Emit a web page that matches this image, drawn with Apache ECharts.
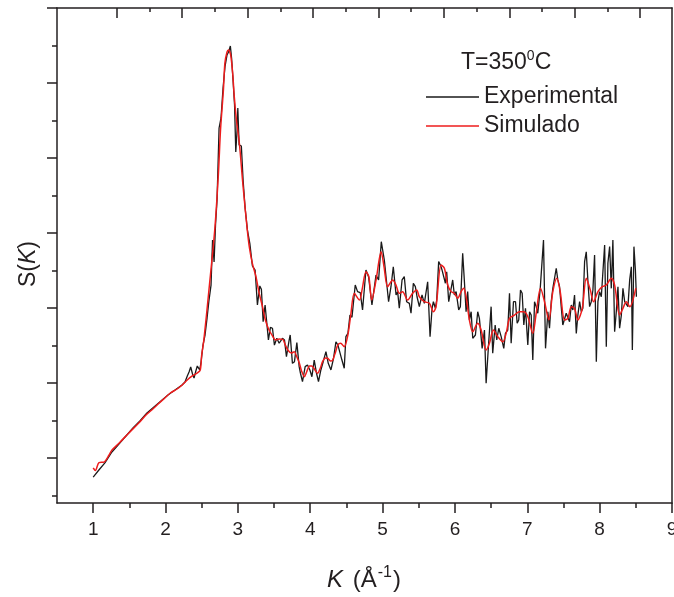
<!DOCTYPE html>
<html>
<head>
<meta charset="utf-8">
<script src="https://cdn.jsdelivr.net/npm/echarts@6/dist/echarts.min.js"></script>
<style>
  html, body { margin: 0; padding: 0; background: #fff; }
  #main { width: 674px; height: 597px; }
</style>
</head>
<body>
<div id="main"></div>
<script>
// experimental S(K)
var kExp = [1.000,1.079,1.162,1.259,1.356,1.453,1.550,1.646,1.743,1.840,1.937,2.034,2.131,2.228,2.269,2.301,2.325,2.348,2.373,2.394,2.415,2.439,2.473,2.491,2.518,2.546,2.574,2.601,2.629,2.650,2.671,2.691,2.712,2.740,2.767,2.795,2.823,2.850,2.871,2.896,2.913,2.933,2.954,2.971,2.989,2.999,3.017,3.048,3.072,3.100,3.132,3.165,3.201,3.238,3.270,3.303,3.325,3.349,3.376,3.422,3.450,3.478,3.505,3.538,3.570,3.616,3.644,3.671,3.709,3.723,3.754,3.782,3.815,3.847,3.865,3.893,3.930,3.962,3.995,4.023,4.055,4.087,4.114,4.147,4.179,4.217,4.249,4.286,4.322,4.355,4.383,4.410,4.438,4.470,4.493,4.521,4.549,4.577,4.622,4.654,4.691,4.723,4.770,4.806,4.853,4.909,4.945,4.982,5.024,5.083,5.116,5.148,5.186,5.208,5.231,5.269,5.300,5.332,5.370,5.393,5.425,5.453,5.476,5.508,5.545,5.577,5.623,5.656,5.684,5.702,5.730,5.748,5.775,5.799,5.822,5.844,5.868,5.886,5.914,5.941,5.969,5.992,6.016,6.052,6.075,6.107,6.131,6.154,6.176,6.200,6.224,6.246,6.283,6.315,6.338,6.376,6.408,6.431,6.467,6.500,6.522,6.556,6.578,6.606,6.639,6.675,6.698,6.730,6.754,6.777,6.809,6.837,6.860,6.882,6.906,6.929,6.952,6.975,7.007,7.031,7.054,7.076,7.100,7.123,7.145,7.179,7.201,7.224,7.252,7.284,7.307,7.331,7.353,7.400,7.422,7.446,7.469,7.491,7.515,7.538,7.561,7.584,7.608,7.630,7.653,7.677,7.699,7.723,7.746,7.768,7.792,7.815,7.837,7.861,7.884,7.907,7.930,7.954,7.976,7.999,8.023,8.045,8.069,8.092,8.114,8.138,8.161,8.183,8.207,8.230,8.253,8.276,8.300,8.322,8.346,8.369,8.391,8.415,8.438,8.452,8.474,8.494,8.508];
var sExp = [-0.127,-0.080,-0.033,0.040,0.093,0.147,0.200,0.247,0.300,0.340,0.380,0.420,0.453,0.487,0.507,0.547,0.573,0.607,0.560,0.533,0.573,0.613,0.587,0.640,0.753,0.820,0.933,1.053,1.153,1.453,1.307,1.553,1.720,2.200,2.267,2.467,2.613,2.687,2.707,2.747,2.667,2.520,2.353,2.040,2.187,2.333,2.087,2.080,1.853,1.667,1.520,1.431,1.280,1.253,1.020,1.147,1.125,0.909,1.020,0.787,0.871,0.865,0.753,0.798,0.765,0.798,0.787,0.675,0.787,0.820,0.631,0.642,0.769,0.609,0.565,0.509,0.609,0.620,0.587,0.542,0.653,0.565,0.509,0.587,0.642,0.709,0.631,0.587,0.665,0.775,0.753,0.742,0.653,0.598,0.809,0.831,0.953,0.938,1.153,1.109,1.102,0.987,1.253,1.209,1.020,1.220,1.187,1.442,1.320,1.042,1.142,1.275,1.087,1.109,0.998,1.187,1.209,1.042,1.031,0.965,1.165,1.142,1.075,1.009,1.087,1.031,1.175,0.809,0.998,1.042,0.998,1.053,1.309,1.287,1.253,1.265,1.165,1.242,1.042,1.042,1.187,1.087,1.109,0.987,1.009,1.365,1.175,0.975,1.109,0.920,0.975,0.798,0.820,0.975,0.931,0.731,0.853,0.498,0.775,1.009,0.698,0.887,0.787,0.865,0.809,0.731,0.831,0.853,1.098,0.765,1.042,1.042,0.898,0.920,1.120,1.098,0.887,0.998,0.753,0.975,0.953,0.653,1.042,1.009,0.965,1.131,1.120,1.453,0.731,0.975,0.865,1.042,1.131,1.265,1.187,1.142,1.009,0.887,0.887,0.965,0.975,0.909,1.020,0.987,1.087,0.831,0.953,1.042,0.975,0.998,1.309,1.375,1.187,1.009,1.042,1.120,1.353,0.642,1.042,1.109,1.075,1.087,1.420,0.742,1.298,1.409,1.131,1.453,0.842,0.975,1.142,0.865,0.953,1.131,1.042,1.053,1.009,1.187,1.275,0.720,1.409,1.253,1.075];

// simulated S(K)
var kSim = [1.00,1.03,1.08,1.15,1.22,1.26,1.36,1.49,1.63,1.73,1.81,1.91,1.99,2.07,2.16,2.23,2.30,2.37,2.44,2.48,2.50,2.53,2.60,2.68,2.73,2.76,2.80,2.82,2.85,2.87,2.90,2.93,2.95,2.98,3.02,3.07,3.13,3.16,3.20,3.25,3.29,3.34,3.38,3.43,3.48,3.52,3.57,3.62,3.65,3.69,3.74,3.78,3.81,3.85,3.88,3.92,3.95,3.99,4.02,4.05,4.10,4.14,4.17,4.21,4.24,4.28,4.31,4.35,4.38,4.42,4.47,4.52,4.56,4.61,4.68,4.72,4.77,4.81,4.85,4.91,4.98,5.02,5.07,5.14,5.185,5.231,5.277,5.346,5.415,5.471,5.508,5.577,5.647,5.702,5.739,5.808,5.854,5.900,5.947,5.992,6.038,6.085,6.121,6.154,6.200,6.246,6.315,6.362,6.431,6.477,6.532,6.592,6.661,6.708,6.754,6.823,6.892,6.952,7.007,7.076,7.123,7.183,7.238,7.298,7.353,7.408,7.455,7.515,7.561,7.608,7.653,7.699,7.760,7.815,7.871,7.916,7.976,8.037,8.092,8.161,8.207,8.276,8.322,8.369,8.415,8.50];
var sSim = [-0.067,-0.083,-0.031,-0.027,0.02,0.053,0.10,0.165,0.233,0.287,0.32,0.365,0.40,0.435,0.46,0.487,0.52,0.547,0.567,0.587,0.687,0.787,1.12,1.52,1.887,2.187,2.453,2.631,2.707,2.72,2.687,2.553,2.409,2.253,2.10,1.82,1.52,1.40,1.298,1.209,1.107,1.009,0.92,0.853,0.813,0.787,0.793,0.791,0.76,0.72,0.70,0.709,0.68,0.631,0.58,0.542,0.573,0.613,0.613,0.598,0.565,0.60,0.642,0.667,0.665,0.647,0.653,0.707,0.753,0.765,0.742,0.82,0.953,1.098,1.053,1.131,1.242,1.209,1.053,1.187,1.375,1.275,1.142,1.187,1.153,1.098,1.109,1.053,1.098,1.12,1.075,1.042,1.031,0.975,1.009,1.287,1.265,1.153,1.109,1.098,1.065,1.109,1.131,1.075,0.92,0.842,0.898,0.853,0.72,0.765,0.853,0.809,0.775,0.831,0.931,0.953,0.975,0.975,0.942,0.831,0.965,1.131,1.042,0.92,1.109,1.198,1.109,0.92,0.931,1.009,0.998,0.92,0.998,1.198,1.12,1.042,1.109,1.142,1.153,1.198,1.153,0.953,0.998,1.042,1.009,1.133];

var xMajor = [1, 2, 3, 4, 5, 6, 7, 8, 9];
var xMinor = [1.5, 2.5, 3.5, 4.5, 5.5, 6.5, 7.5, 8.5];
var yMajor = [0, 0.5, 1, 1.5, 2, 2.5, 3];
var yMinor = [-0.25, 0.25, 0.75, 1.25, 1.75, 2.25, 2.75];
var topMajor = [1.327, 2.231, 3.135, 4.039, 4.943, 5.847, 6.751, 7.655, 8.559];
var topMinor = [1.779, 2.683, 3.587, 4.491, 5.395, 6.299, 7.203, 8.107];

function pairs(xs, ys) {
    var out = [];
    for (var i = 0; i < xs.length; i++) out.push([xs[i], ys[i]]);
    return out;
}

var ink = '#231f20';
var font = 'Liberation Sans, Arial, sans-serif';

function xAx(pos, ticks, len, inside, line, labels) {
    return {
        type: 'value', position: pos, min: 0.5, max: 9,
        axisLine: { show: line, onZero: false, lineStyle: { color: ink, width: 1.5 } },
        axisTick: { show: true, inside: inside, length: len, customValues: ticks, lineStyle: { color: ink, width: 1.5 } },
        axisLabel: labels ? { show: true, customValues: ticks, color: ink, fontSize: 19, fontFamily: font, margin: 17 } : { show: false },
        splitLine: { show: false }
    };
}
function yAx(pos, ticks, len, inside, line) {
    return {
        type: 'value', position: pos, min: -0.3, max: 3.0,
        axisLine: { show: line, onZero: false, lineStyle: { color: ink, width: 1.5 } },
        axisTick: { show: ticks.length > 0, inside: inside, length: len, customValues: ticks, lineStyle: { color: ink, width: 1.5 } },
        axisLabel: { show: false },
        splitLine: { show: false }
    };
}

var myChart = echarts.init(document.getElementById('main'));

var option = {
    backgroundColor: '#fff',
    animation: false,
    grid: { left: 57, right: 2, top: 8, bottom: 94, outerBoundsMode: 'none', containLabel: false },
    xAxis: [
        xAx('bottom', xMajor, 10, false, true, true),
        xAx('bottom', xMinor, 5, false, false, false),
        xAx('top', topMajor, 10, true, true, false),
        xAx('top', topMinor, 4, true, false, false)
    ],
    yAxis: [
        yAx('left', yMajor, 10, false, true),
        yAx('left', yMinor, 5, false, false),
        yAx('right', [], 0, true, true)
    ],
    legend: {
        orient: 'vertical',
        left: 421, top: 80,
        icon: 'rect',
        itemWidth: 53, itemHeight: 1.5, itemGap: 5,
        textStyle: { color: ink, fontSize: 23, fontFamily: font, lineHeight: 24 },
        data: ['Experimental', 'Simulado']
    },
    graphic: [
        {
            type: 'text', left: 461, top: 49,
            style: {
                text: '{n|T=350}{s|0}{n|C}',
                fill: ink,
                rich: {
                    n: { fontSize: 23, fontFamily: font, fill: ink, verticalAlign: 'bottom' },
                    s: { fontSize: 14, fontFamily: font, fill: ink, verticalAlign: 'bottom', padding: [0, 0, 11, 0] }
                }
            }
        },
        {
            type: 'text', left: 327, top: 565,
            style: {
                text: '{i|K}{n| (Å}{s|-1}{n|)}',
                fill: ink,
                rich: {
                    i: { fontSize: 24, fontFamily: font, fontStyle: 'italic', fill: ink, verticalAlign: 'bottom', padding: [0, 3, 0, 0] },
                    n: { fontSize: 24, fontFamily: font, fill: ink, verticalAlign: 'bottom' },
                    s: { fontSize: 16, fontFamily: font, fill: ink, verticalAlign: 'bottom', padding: [0, 1, 11, 1] }
                }
            }
        },
        {
            type: 'text', x: 17, y: 287, rotation: Math.PI / 2,
            style: {
                text: '{n|S(}{i|K}{n|)}',
                fill: ink,
                rich: {
                    i: { fontSize: 23, fontFamily: font, fontStyle: 'italic', fill: ink },
                    n: { fontSize: 23, fontFamily: font, fill: ink }
                }
            }
        }
    ],
    series: [
        {
            name: 'Experimental', type: 'line', symbol: 'none',
            data: pairs(kExp, sExp),
            itemStyle: { color: '#1a1a1a' },
            lineStyle: { color: '#1a1a1a', width: 1.3 }
        },
        {
            name: 'Simulado', type: 'line', symbol: 'none', smooth: 0.3,
            data: pairs(kSim, sSim),
            itemStyle: { color: '#ee1c1c' },
            lineStyle: { color: '#ee1c1c', width: 1.5 }
        }
    ]
};

myChart.setOption(option);
</script>
</body>
</html>
